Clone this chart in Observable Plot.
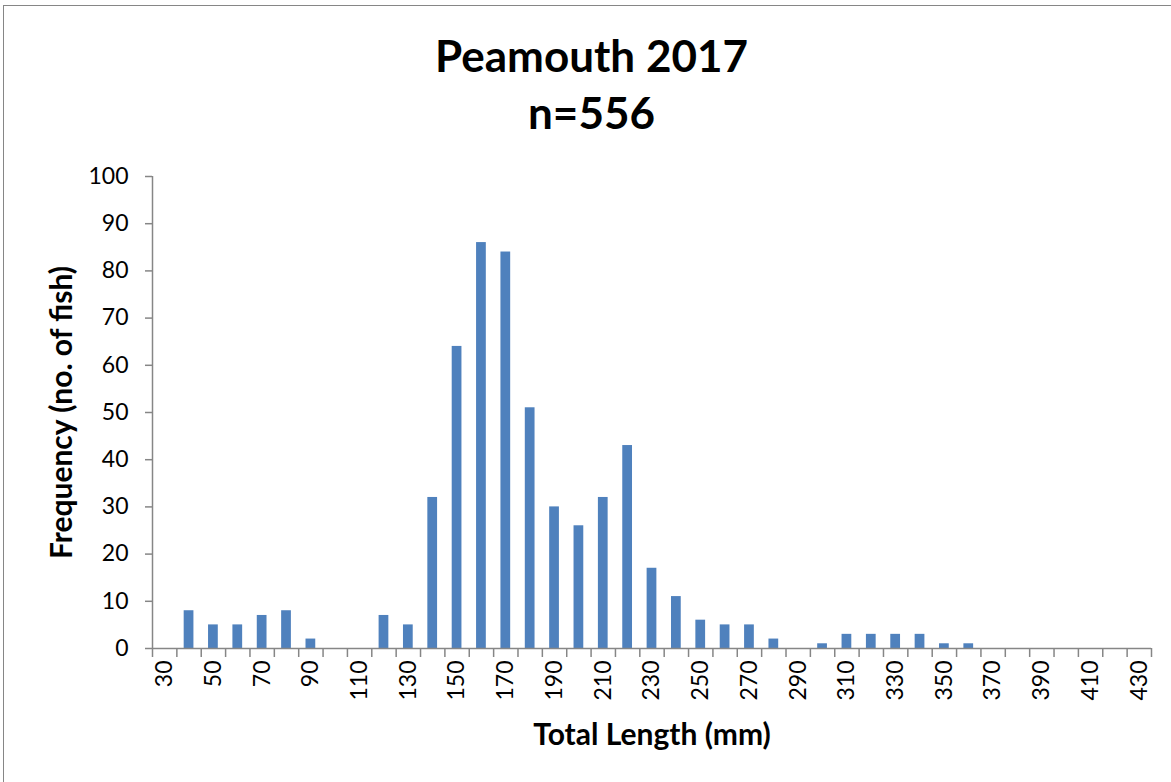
<!DOCTYPE html>
<html>
<head>
<meta charset="utf-8">
<script src="https://cdn.jsdelivr.net/npm/d3@7"></script>
<script src="https://cdn.jsdelivr.net/npm/@observablehq/plot@0.6"></script>
<style>
  html, body { margin: 0; padding: 0; background: #fff; overflow: hidden; }
  #wrap { position: relative; width: 1171px; height: 782px; }
  #border { position: absolute; left: 3px; top: 5px; width: 1200px; height: 800px; border: 1.5px solid #868686; box-sizing: border-box; }
  #title { position: absolute; left: 0; top: 0; width: 1171px; height: 150px; text-align: center; font-family: Lato, sans-serif; font-weight: bold; font-size: 44px; color: #000; }
  #title div { position: absolute; left: 0; width: 1183px; }
  #chart { position: absolute; left: 0; top: 150px; }
  #chart svg { overflow: visible; }
</style>
</head>
<body>
<div id="wrap">
  <div id="border"></div>
  <div id="title">
    <div id="t1" style="top:29px">Peamouth 2017</div>
    <div id="t2" style="top:86px">n=556</div>
  </div>
  <div id="chart"></div>
</div>
<script>
const lengthBins = [30, 40, 50, 60, 70, 80, 90, 100, 110, 120, 130, 140, 150, 160, 170, 180, 190, 200, 210, 220,
  230, 240, 250, 260, 270, 280, 290, 300, 310, 320, 330, 340, 350, 360, 370, 380, 390, 400, 410, 420, 430];
const counts = [0, 8, 5, 5, 7, 8, 2, 0, 0, 7, 5, 32, 64, 86, 84, 51, 30, 26, 32, 43,
  17, 11, 6, 5, 5, 2, 0, 1, 3, 3, 3, 3, 1, 1, 0, 0, 0, 0, 0, 0, 0];
const xTickLabels = [30, 50, 70, 90, 110, 130, 150, 170, 190, 210, 230, 250, 270, 290, 310, 330, 350, 370, 390, 410, 430];
const yTicks = [0, 10, 20, 30, 40, 50, 60, 70, 80, 90, 100];
const xLabel = "Total Length (mm)";
const yLabel = "Frequency (no. of fish)";

const binWidth = 10;
const barFraction = 0.4;
const data = lengthBins.map((len, i) => ({len, count: counts[i]}));
const boundaries = lengthBins.map(v => v - binWidth / 2).concat([lengthBins[lengthBins.length - 1] + binWidth / 2]);

const axisGray = "#868686";

const chart = Plot.plot({
  width: 1171,
  height: 632,
  marginLeft: 152,
  marginRight: 20,
  marginTop: 26,
  marginBottom: 134,
  style: {fontFamily: "Lato, sans-serif", color: "#000", background: "transparent", overflow: "visible"},
  x: {domain: [boundaries[0], boundaries[boundaries.length - 1]], axis: null},
  y: {domain: [0, 100], axis: null},
  marks: [
    Plot.rectY(data, {
      x1: d => d.len - binWidth * barFraction / 2,
      x2: d => d.len + binWidth * barFraction / 2,
      y: "count",
      fill: "#4F81BD"
    }),
    Plot.axisY({ticks: yTicks, tickSize: 7, tickPadding: 17, fontSize: 23, stroke: axisGray, fill: "#000", label: null, strokeWidth: 1.5}),
    Plot.axisX({ticks: boundaries, tickSize: 9, tickFormat: () => "", stroke: axisGray, label: null, strokeWidth: 1.5}),
    Plot.axisX({ticks: xTickLabels, tickSize: 0, tickPadding: 12, tickRotate: -90, fontSize: 23, fill: "#000", label: null, tickFormat: d => String(d)}),
    Plot.ruleY([0], {stroke: axisGray, strokeWidth: 1.5}),
    Plot.ruleX([boundaries[0]], {stroke: axisGray, strokeWidth: 1.5}),
    Plot.text([xLabel], {frameAnchor: "bottom", dy: 87, lineAnchor: "middle", textAnchor: "middle", fontWeight: "bold", fontSize: 30, fill: "#000"}),
    Plot.text([yLabel], {frameAnchor: "left", dx: -90, rotate: -90, textAnchor: "middle", lineAnchor: "middle", fontWeight: "bold", fontSize: 30, fill: "#000"})
  ]
});
document.getElementById("chart").appendChild(chart);
</script>
</body>
</html>
